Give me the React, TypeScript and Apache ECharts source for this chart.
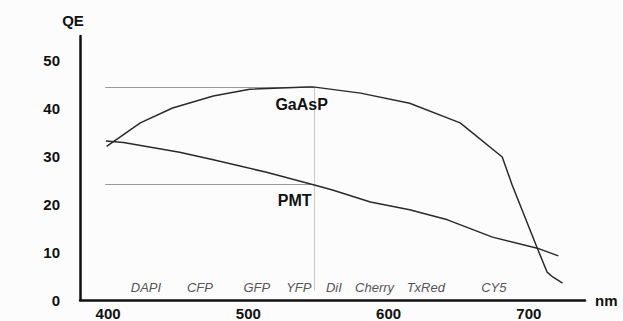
import React, { useEffect, useRef } from "react";
import * as echarts from "echarts";

const xTicks = [400, 500, 600, 700];
const yTicks = [0, 10, 20, 30, 40, 50];

const gaaspNm = [399, 423, 446, 475, 501, 542, 546, 580, 615, 651, 681, 688, 706, 713, 717, 724];
const gaaspQE = [32, 36.9, 40, 42.5, 43.9, 44.4, 44.4, 43.1, 41, 36.9, 29.8, 24, 10.8, 5.8, 4.8, 3.5];

const pmtNm = [398.5, 411, 451, 475, 513, 549, 560, 587, 615, 642, 674, 706, 721];
const pmtQE = [33.1, 32.8, 30.8, 29.2, 26.6, 23.8, 22.9, 20.4, 18.8, 16.7, 13.1, 10.8, 9.2];

const dyeNames = ["DAPI", "CFP", "GFP", "YFP", "DiI", "Cherry", "TxRed", "CY5"];
const dyeNm = [427, 465.5, 506, 536, 561, 590, 626.5, 675];
const dyeQE = 2.6;

const curveNames = ["GaAsP", "PMT"];
const curveLabelNm = [538, 533];
const curveLabelQE = [40.8, 20.8];

const refStartNm = 398;
const gaaspPeakNm = 547;
const gaaspPeakQE = 44.4;
const pmtRefQE = 24.2;
const vLineBottomQE = 2;

export default function App() {
  const ref = useRef<HTMLDivElement>(null);
  useEffect(() => {
    if (!ref.current) return;
    const chart = echarts.init(ref.current, undefined, { renderer: "svg" });
    const font = "Liberation Sans, Arial, sans-serif";
    chart.setOption({
      animation: false,
      backgroundColor: "#fcfcfc",
      grid: { left: 80, right: 38, top: 36, bottom: 21 },
      xAxis: {
        type: "value",
        min: 380,
        max: 740,
        name: "nm",
        nameLocation: "end",
        nameGap: 10,
        nameTextStyle: { fontFamily: font, fontWeight: "bold", fontSize: 15, color: "#111", verticalAlign: "middle", padding: [4, 0, 0, 0] },
        axisLine: { lineStyle: { color: "#111", width: 2.5 } },
        axisTick: { show: false },
        splitLine: { show: false },
        axisLabel: {
          customValues: xTicks,
          margin: 6,
          fontFamily: font,
          fontWeight: "bold",
          fontSize: 15,
          color: "#111",
        },
      },
      yAxis: {
        type: "value",
        min: 0,
        max: 55,
        name: "QE",
        nameLocation: "end",
        nameGap: 8,
        nameTextStyle: { fontFamily: font, fontWeight: "bold", fontSize: 15, color: "#111", padding: [0, 14, 0, 0] },
        axisLine: { show: true, lineStyle: { color: "#111", width: 2.5 } },
        axisTick: { show: false },
        splitLine: { show: false },
        axisLabel: {
          customValues: yTicks,
          margin: 20,
          fontFamily: font,
          fontWeight: "bold",
          fontSize: 15,
          color: "#111",
        },
      },
      series: [
        {
          type: "line",
          name: "GaAsP",
          data: gaaspNm.map((x, i) => [x, gaaspQE[i]]),
          showSymbol: false,
          lineStyle: { color: "#2a2a2a", width: 1.5 },
          z: 3,
          markLine: {
            silent: true,
            symbol: "none",
            z: 1,
            label: { show: false },
            lineStyle: { color: "#999", width: 1, type: "solid" },
            data: [
              [{ coord: [refStartNm, gaaspPeakQE] }, { coord: [gaaspPeakNm, gaaspPeakQE] }],
              [{ coord: [refStartNm, pmtRefQE] }, { coord: [gaaspPeakNm, pmtRefQE] }],
              [
                { coord: [gaaspPeakNm, gaaspPeakQE], lineStyle: { color: "#c8c8c8" } },
                { coord: [gaaspPeakNm, vLineBottomQE] },
              ],
            ],
          },
        },
        {
          type: "line",
          name: "PMT",
          data: pmtNm.map((x, i) => [x, pmtQE[i]]),
          showSymbol: false,
          lineStyle: { color: "#2a2a2a", width: 1.5 },
          z: 3,
        },
        {
          type: "scatter",
          symbolSize: 0,
          silent: true,
          z: 10,
          itemStyle: { opacity: 1 },
          data: dyeNames.map((n, i) => ({ name: n, value: [dyeNm[i], dyeQE] })),
          label: {
            show: true,
            position: "inside",
            formatter: (p: any) => p.name,
            fontFamily: font,
            fontStyle: "italic",
            fontSize: 13,
            color: "#555",
            opacity: 1,
          },
        },
        {
          type: "scatter",
          symbolSize: 0,
          silent: true,
          z: 10,
          itemStyle: { opacity: 1 },
          data: curveNames.map((n, i) => ({ name: n, value: [curveLabelNm[i], curveLabelQE[i]] })),
          label: {
            show: true,
            position: "inside",
            formatter: (p: any) => p.name,
            fontFamily: font,
            fontWeight: "bold",
            fontSize: 16,
            color: "#111",
            opacity: 1,
          },
        },
      ],
    });
    return () => chart.dispose();
  }, []);
  return (
    <div
      ref={ref}
      style={{ width: 623, height: 321, position: "fixed", left: 0, top: 0 }}
    />
  );
}
